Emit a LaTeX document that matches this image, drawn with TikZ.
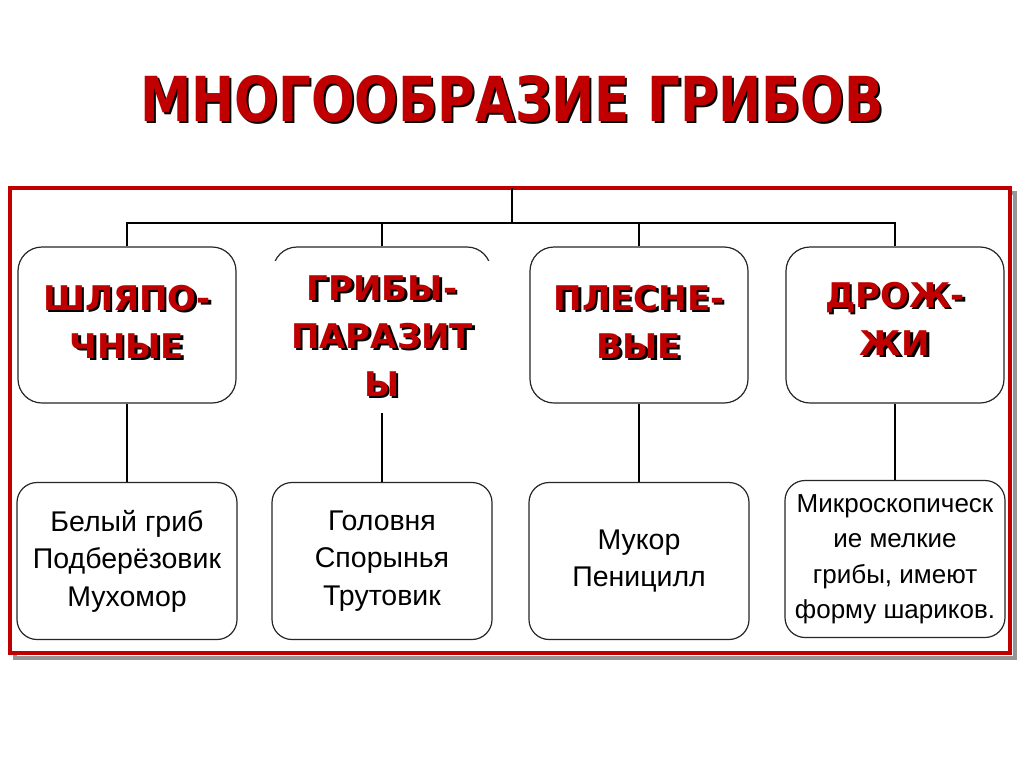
\documentclass[tikz,border=0pt]{standalone}
\usepackage{fontspec}
\setmainfont{Liberation Sans}
\newfontfamily\headfont{DejaVu Sans}
\usetikzlibrary{positioning}
\definecolor{darkred}{RGB}{192,0,0}
\definecolor{shadowgray}{RGB}{150,150,150}
% red text with a black drop shadow
\newcommand{\shd}[1]{\rlap{\kern2.5pt\raisebox{-2.5pt}{\textcolor{black}{#1}}}#1}

\tikzset{
  kind/.style={draw=black!85, line width=1.2pt, rounded corners=24pt, minimum width=218pt, minimum height=156pt, fill=white},
  kindtxt/.style={font=\headfont\fontsize{34}{48}\selectfont\bfseries, text=darkred, align=center},
  sample/.style={draw=black!85, line width=1.2pt, rounded corners=20pt, minimum width=220pt, minimum height=157pt, fill=white, align=center, font=\fontsize{28.5}{37.5}\selectfont},
  link/.style={line width=2.5pt, black},
}

\begin{document}
\begin{tikzpicture}[x=1pt, y=-1pt]
    \useasboundingbox (0,0) rectangle (1024,768);

    % title
    \node[font=\headfont\fontsize{62}{70}\selectfont\bfseries, text=darkred, xscale=0.83, transform shape] (title) at (512,100) {\shd{МНОГООБРАЗИЕ ГРИБОВ}};

    % frame
    \draw[shadowgray, line width=3.5pt] (15,193) rectangle (1015,658);
    \draw[darkred, line width=3.5pt, fill=white] (10,188) rectangle (1010,653);

    % kinds
    \node[kind] (hat) at (127,325) {};
    \node[kind] (par) at (382,325) {};
    \node[kind] (mould) at (639,325) {};
    \node[kind] (yeast) at (895,325) {};

    \node[kindtxt] (hattxt) at (127,323) {\shd{ШЛЯПО-}\\\shd{ЧНЫЕ}};
    \node[kindtxt, fill=white, minimum width=226pt, minimum height=152pt] (partxt) at (382,337) {\shd{ГРИБЫ-}\\\shd{ПАРАЗИТ}\\\shd{Ы}};
    \node[kindtxt] (mouldtxt) at (639,323) {\shd{ПЛЕСНЕ-}\\\shd{ВЫЕ}};
    \node[kindtxt] (yeasttxt) at (895,320) {\shd{ДРОЖ-}\\\shd{ЖИ}};

    % examples
    \node[sample] (hatex) at (127,561) {Белый гриб\\Подберёзовик\\Мухомор};
    \node[sample] (parex) at (382,561) {Головня\\Спорынья\\Трутовик};
    \node[sample] (mouldex) at (639,561) {Мукор\\Пеницилл};
    \node[sample, font=\fontsize{26}{35.5}\selectfont] (yeastex) at (895,559) {Микроскопическ\\ие мелкие\\грибы, имеют\\форму шариков.};

    % tree
    \coordinate (root) at (512,188);
    \coordinate (bus) at (512,223);
    \draw[link] (root) -- (bus);
    \draw[link] (hat.north) |- (bus) -| (yeast.north);
    \draw[link] (par.north) -- (par.north |- bus);
    \draw[link] (mould.north) -- (mould.north |- bus);

    \draw[link] (hat.south) -- (hatex.north);
    \draw[link] (partxt.south) -- (parex.north);
    \draw[link] (mould.south) -- (mouldex.north);
    \draw[link] (yeast.south) -- (yeastex.north);
\end{tikzpicture}
\end{document}
